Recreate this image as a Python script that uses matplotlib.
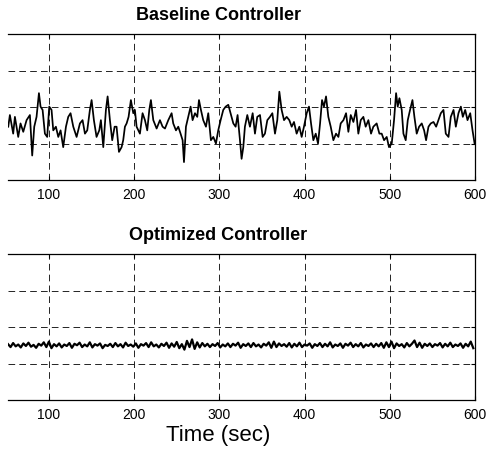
import numpy as np
import matplotlib
matplotlib.use("Agg")
import matplotlib.pyplot as plt

plt.rcParams['font.family'] = ['Liberation Sans', 'DejaVu Sans']

# ---- data ----
base_t = [52.3, 54.2, 58.1, 60.1, 64.0, 66.7, 69.9, 73.8, 77.7, 80.4, 82.8, 85.5, 88.3, 90.2, 92.6,
          95.3, 98.0, 100.4, 103.1, 105.1, 108.2, 111.0, 113.7, 116.8, 120.0, 122.7, 125.4, 128.6,
          132.5, 136.4, 139.5, 142.3, 145.0, 148.1, 150.1, 152.8, 155.9, 159.1, 161.0, 163.8, 166.9,
          168.9, 171.6, 174.3, 177.1, 179.4, 182.2, 185.3, 187.2, 189.2, 191.2, 193.5, 196.2, 199.0,
          200.9, 202.9, 206.8, 209.9, 212.7, 215.4, 217.8, 219.7, 222.5, 226.4, 230.3, 233.4, 236.2,
          240.1, 244.0, 245.9, 249.1, 251.8, 254.5, 256.9, 258.5, 260.8, 263.5, 266.3, 268.6, 271.4,
          274.1, 276.1, 278.4, 281.1, 284.3, 287.0, 290.1, 292.9, 296.0, 298.7, 301.5, 304.6, 307.4,
          310.5, 313.2, 316.4, 319.1, 321.4, 324.2, 326.1,
          328.1, 330.0, 332.8, 335.9, 339.1, 341.8, 344.5, 347.7, 350.8, 353.5, 356.3, 359.4, 362.2,
          365.3, 368.0, 370.4, 373.1, 375.9, 379.0, 382.1, 384.9, 387.6, 390.7, 393.9, 396.6, 399.3,
          402.5, 405.2, 407.6, 410.3, 413.1, 415.8, 418.2, 420.5, 422.8, 425.2, 427.9, 430.7, 433.8,
          436.9, 439.7, 442.4, 445.6, 448.7, 451.4, 454.2, 457.3, 460.4, 463.1, 465.9, 469.0, 471.7,
          474.9, 478.0, 480.7, 484.6, 487.8, 490.5, 493.3, 496.4, 499.1, 502.3, 505.0, 507.4, 509.3,
          511.3, 514.0, 516.0, 518.7, 521.1, 523.8, 526.6, 528.9, 531.6, 534.4, 537.5, 540.3, 542.6,
          545.4, 548.1, 551.3, 554.4, 557.1, 559.9, 563.0, 565.7, 568.9, 571.6, 574.8, 577.5, 580.6,
          583.4, 585.7, 588.5, 591.2, 594.4, 597.1, 599.5]
base_v = [-0.54, -0.22, -0.73, -0.27, -0.82, -0.45, -0.68, -0.36, -0.22, -1.33, -0.54, -0.27, 0.38,
          0.01, -0.08, -0.73, -0.82, 0.01, -0.08, -0.64, -0.54, -0.82, -0.64, -1.10, -0.54, -0.27,
          -0.17, -0.54, -0.82, -0.45, -0.36, -0.73, -0.64, -0.08, 0.19, -0.36, -0.82, -0.64, -0.36,
          -1.10, -0.08, 0.29, -0.36, -0.91, -0.54, -0.54, -1.23, -1.10, -0.91, -0.54, -0.45, -0.27,
          0.19, -0.17, -0.08, -0.54, -0.73, -0.17, -0.36, -0.64, -0.08, 0.19, -0.36, -0.59, -0.36,
          -0.54, -0.59, -0.36, -0.17, -0.45, -0.64, -0.54, -0.73, -0.91, -1.51, -0.54, -0.27, 0.01,
          -0.36, -0.17, -0.27, 0.19, -0.08, -0.36, -0.54, -0.17, -0.91, -0.82, -1.00, -0.64, -0.36,
          -0.08, 0.01, 0.06, -0.17, -0.45, -0.54, -0.22, -0.91, -1.42,
          -1.10, -0.54, -0.22, -0.54, -0.17, -0.73, -0.27, -0.22, -0.82, -0.73, -0.36, -0.27, -0.17,
          -0.73, -0.36, 0.42, -0.08, -0.36, -0.27, -0.36, -0.54, -0.41, -0.73, -0.54, -0.82, -0.54,
          -0.17, 0.01, -0.45, -0.91, -0.73, -1.00, -0.45, 0.19, 0.01, 0.29, -0.27, -0.54, -0.91,
          -0.73, -0.82, -0.45, -0.36, -0.17, -0.68, -0.22, -0.41, -0.08, -0.73, -0.36, -0.27, -0.54,
          -0.36, -0.73, -0.54, -0.45, -0.73, -0.73, -0.91, -0.82, -1.10, -1.00, -0.36, 0.38, 0.01,
          0.24, -0.08, -0.73, -0.91, -0.36, -0.08, 0.19, -0.27, -0.73, -0.54, -0.45, -0.64, -0.91,
          -0.54, -0.45, -0.41, -0.54, -0.36, -0.17, -0.08, -0.73, -0.82, -0.27, -0.08, -0.54, -0.17,
          0.01, -0.27, -0.08, -0.36, -0.17, -0.64, -1.00]

opt_t = np.arange(52, 599, 3)
opt_v = [-0.47, -0.55, -0.44, -0.53, -0.48, -0.56, -0.45, -0.52, -0.43, -0.54,
         -0.49, -0.57, -0.46, -0.51, -0.42, -0.55, -0.40, -0.58, -0.47, -0.53,
         -0.45, -0.56, -0.48, -0.52, -0.44, -0.57, -0.46, -0.50, -0.43, -0.55,
         -0.48, -0.53, -0.42, -0.56, -0.47, -0.51, -0.45, -0.58, -0.49, -0.52,
         -0.46, -0.55, -0.44, -0.53, -0.47, -0.56, -0.43, -0.52, -0.48, -0.54,
         -0.45, -0.57, -0.47, -0.51, -0.44, -0.55, -0.42, -0.53, -0.48, -0.56,
         -0.46, -0.52, -0.43, -0.57, -0.45, -0.54, -0.41, -0.58, -0.47, -0.62,
         -0.38, -0.55, -0.34, -0.60, -0.42, -0.56, -0.44, -0.53, -0.46, -0.55,
         -0.47, -0.52, -0.44, -0.56, -0.48, -0.53, -0.45, -0.55, -0.46, -0.51,
         -0.43, -0.57, -0.47, -0.52, -0.45, -0.55, -0.44, -0.53, -0.48, -0.56,
         -0.46, -0.51, -0.42, -0.57, -0.40, -0.55, -0.45, -0.52, -0.47, -0.54,
         -0.44, -0.56, -0.46, -0.53, -0.43, -0.55, -0.48, -0.51, -0.45, -0.57,
         -0.47, -0.52, -0.44, -0.55, -0.46, -0.53, -0.42, -0.56, -0.48, -0.52,
         -0.45, -0.57, -0.46, -0.51, -0.43, -0.55, -0.47, -0.53, -0.44, -0.56,
         -0.48, -0.52, -0.45, -0.55, -0.46, -0.53, -0.44, -0.57, -0.42, -0.55,
         -0.40, -0.58, -0.45, -0.52, -0.47, -0.56, -0.44, -0.53, -0.46, -0.37,
         -0.55, -0.43, -0.57, -0.46, -0.52, -0.45, -0.55, -0.47, -0.51, -0.44,
         -0.56, -0.46, -0.53, -0.43, -0.55, -0.48, -0.52, -0.45, -0.57, -0.46,
         -0.53, -0.40, -0.58]

titles = ["Baseline Controller", "Optimized Controller"]
x_ticks = [100, 200, 300, 400, 500, 600]
y_grid = [-1, 0, 1]
x_label = "Time (sec)"

# ---- figure ----
W, H = 487, 451
fig = plt.figure(figsize=(W / 100, H / 100), dpi=100)

def px_axes(left, top, right, bottom):
    return fig.add_axes([left / W, 1 - bottom / H, (right - left) / W, (bottom - top) / H])

ax1 = px_axes(8, 34, 475, 180)
ax2 = px_axes(8, 254, 475, 400)

for ax, t, v, title, lw in [(ax1, base_t, base_v, titles[0], 1.25),
                            (ax2, opt_t, opt_v, titles[1], 1.6)]:
    ax.plot(t, v, color='black', linewidth=lw)
    ax.set_xlim(52, 600)
    ax.set_ylim(-2, 2)
    ax.set_xticks(x_ticks)
    ax.set_yticks(y_grid)
    ax.set_yticklabels([])
    ax.grid(True, color='black', linestyle=(0, (8, 5)), linewidth=0.6)
    ax.spines['left'].set_visible(False)
    for s in ['top', 'bottom', 'right']:
        ax.spines[s].set_linewidth(0.9)
    ax.tick_params(axis='x', direction='in', length=3, top=True, labelsize=10, pad=6)
    ax.tick_params(axis='y', direction='in', length=3, left=False, right=True)
    ax.set_title(title, fontsize=13, fontweight='bold', x=0.45, pad=10)

ax2.set_xlabel(x_label, fontsize=16, labelpad=0)
ax2.xaxis.set_label_coords(0.45, -0.17)

fig.savefig("out.png", dpi=100)
